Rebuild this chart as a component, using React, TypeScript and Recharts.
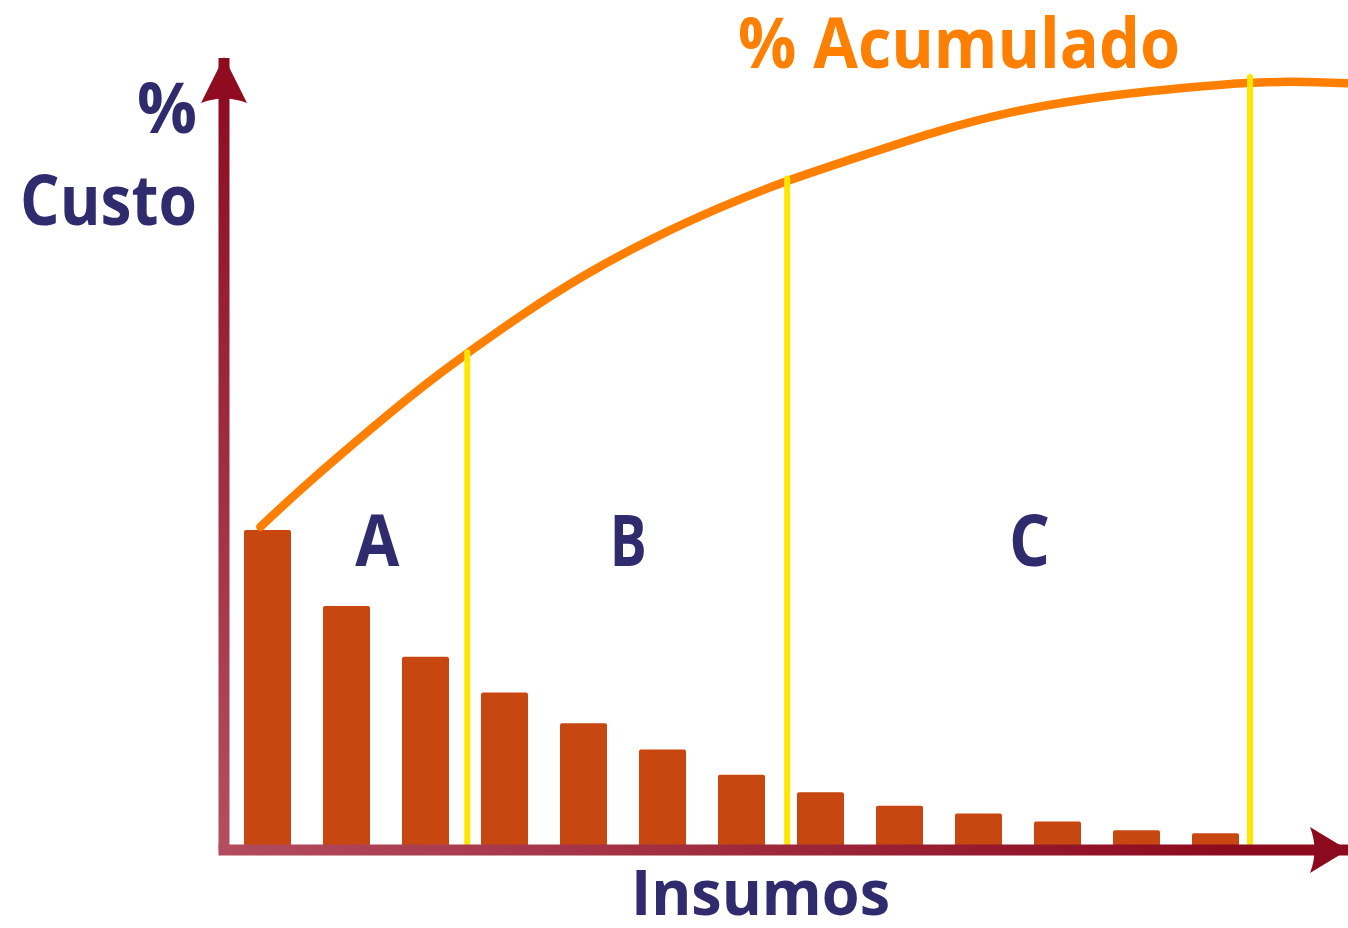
import React from "react";
import {
  ComposedChart,
  Bar,
  Line,
  XAxis,
  YAxis,
  ReferenceLine,
  ReferenceArea,
} from "recharts";

// insumos ordered by cost (Pareto / curva ABC)
const insumos = [1, 2, 3, 4, 5, 6, 7, 8, 9, 10, 11, 12, 13];
const custo = [40.4, 30.8, 24.4, 19.9, 16.0, 12.7, 9.5, 7.3, 5.6, 4.6, 3.6, 2.5, 2.1];

// % acumulado curve
const acumX = [0.91, 1.5, 2.34, 3.19, 4.2, 5.04, 5.88, 6.73, 7.59, 8.63, 9.51, 10.4, 11.29, 12.17, 13.05, 13.93, 14.68];
const acumY = [40.8, 46.2, 53.4, 60.2, 67.4, 72.7, 77.2, 81.1, 84.5, 88.0, 90.8, 93.1, 94.7, 95.8, 96.6, 97.0, 96.8];

// A / B / C cut points and where each one meets the curve
const cortes = [3.53, 7.58, 13.44];
const cortesTopo = [62.8, 84.8, 97.6];
const zonas = ["A", "B", "C"];
const zonaInicio = [1, cortes[0], cortes[1]];

const barData = insumos.map((x, i) => ({ x, custo: custo[i] }));
const acumData = acumX.map((x, i) => ({ x, acum: acumY[i] }));

const NAVY = "#2f2b6d";
const FONT = "'Open Sans', 'DejaVu Sans', sans-serif";

const zoneStyle: Record<string, { dx: number; len: number }> = {
  A: { dx: 10, len: 44 },
  B: { dx: 1, len: 37 },
  C: { dx: 11, len: 41 },
};

function ZoneLabel(props: any) {
  const { viewBox, text } = props;
  if (!viewBox) return null;
  const s = zoneStyle[text];
  return (
    <text
      x={viewBox.x + viewBox.width / 2 + s.dx}
      y={viewBox.y + 508}
      textAnchor="middle"
      fontFamily={FONT}
      fontWeight={700}
      fontSize={71}
      fill={NAVY}
      textLength={s.len}
      lengthAdjust="spacingAndGlyphs"
    >
      {text}
    </text>
  );
}

export default function App() {
  return (
    <div style={{ position: "absolute", left: 0, top: 0, background: "#fff" }}>
      <ComposedChart
        width={1348}
        height={928}
        data={barData}
        margin={{ top: 58, right: 0, bottom: 77, left: 223 }}
      >
        <defs>
          <linearGradient id="gradY" gradientUnits="userSpaceOnUse" x1={0} y1={58} x2={0} y2={850}>
            <stop offset="0%" stopColor="#8b0a1f" />
            <stop offset="100%" stopColor="#b44e62" />
          </linearGradient>
          <linearGradient id="gradX" gradientUnits="userSpaceOnUse" x1={224} y1={0} x2={1348} y2={0}>
            <stop offset="0%" stopColor="#b24b5e" />
            <stop offset="90%" stopColor="#8c0a1e" />
            <stop offset="100%" stopColor="#8c0a1e" />
          </linearGradient>
          <marker
            id="setaY"
            markerUnits="userSpaceOnUse"
            markerWidth={50}
            markerHeight={50}
            refX={25}
            refY={1}
            orient="0"
            overflow="visible"
          >
            <path d="M25 0 L48 46 Q25 37 2 46 Z" fill="#8e0b20" />
          </marker>
          <marker
            id="setaX"
            markerUnits="userSpaceOnUse"
            markerWidth={50}
            markerHeight={50}
            refX={38}
            refY={23}
            orient="0"
            overflow="visible"
          >
            <path d="M38 23 L0 0 Q9 23 0 46 Z" fill="#8c0a1e" />
          </marker>
        </defs>

        {/* hidden band axis that places the bars */}
        <XAxis
          xAxisId="cat"
          type="category"
          dataKey="x"
          hide
          padding={{ left: 4, right: 93 }}
        />
        <XAxis
          type="number"
          dataKey="x"
          domain={[0.45, 14.68]}
          allowDataOverflow
          height={1}
          tick={false}
          tickLine={false}
          axisLine={{
            stroke: "url(#gradX)",
            strokeWidth: 11,
            strokeLinecap: "square",
            markerEnd: "url(#setaX)",
          }}
        />
        <YAxis
          type="number"
          domain={[0, 100]}
          allowDataOverflow
          width={1}
          tick={false}
          tickLine={false}
          axisLine={{
            stroke: "url(#gradY)",
            strokeWidth: 11,
            markerStart: "url(#setaY)",
          }}
        />

        {zonas.map((z, i) => (
          <ReferenceArea
            key={z}
            x1={zonaInicio[i]}
            x2={cortes[i]}
            fill="none"
            fillOpacity={0}
            stroke="none"
            label={<ZoneLabel text={z} />}
          />
        ))}

        <Bar
          xAxisId="cat"
          dataKey="custo"
          fill="#c84710"
          barSize={47}
          radius={[2, 2, 0, 0]}
          isAnimationActive={false}
        />
        <Line
          data={acumData}
          dataKey="acum"
          type="natural"
          stroke="#ff8000"
          strokeWidth={8.5}
          strokeLinecap="round"
          dot={false}
          activeDot={false}
          isAnimationActive={false}
        />

        {cortes.map((c, i) => (
          <ReferenceLine
            key={c}
            segment={[
              { x: c, y: 0 },
              { x: c, y: cortesTopo[i] },
            ]}
            stroke="#ffe600"
            strokeWidth={6}
            strokeLinecap="round"
          />
        ))}

        <text
          x={738}
          y={68}
          fontFamily={FONT}
          fontWeight={700}
          fontSize={70}
          fill="#ff8000"
          textLength={442}
          lengthAdjust="spacingAndGlyphs"
        >
          % Acumulado
        </text>
        <text
          x={167}
          y={133}
          textAnchor="middle"
          fontFamily={FONT}
          fontWeight={700}
          fontSize={70}
          fill={NAVY}
          textLength={60}
          lengthAdjust="spacingAndGlyphs"
        >
          %
        </text>
        <text
          x={20}
          y={225}
          fontFamily={FONT}
          fontWeight={700}
          fontSize={70}
          fill={NAVY}
          textLength={177}
          lengthAdjust="spacingAndGlyphs"
        >
          Custo
        </text>
        <text
          x={631}
          y={915}
          fontFamily={FONT}
          fontWeight={700}
          fontSize={62}
          fill={NAVY}
          textLength={259}
          lengthAdjust="spacingAndGlyphs"
        >
          Insumos
        </text>
      </ComposedChart>
    </div>
  );
}
